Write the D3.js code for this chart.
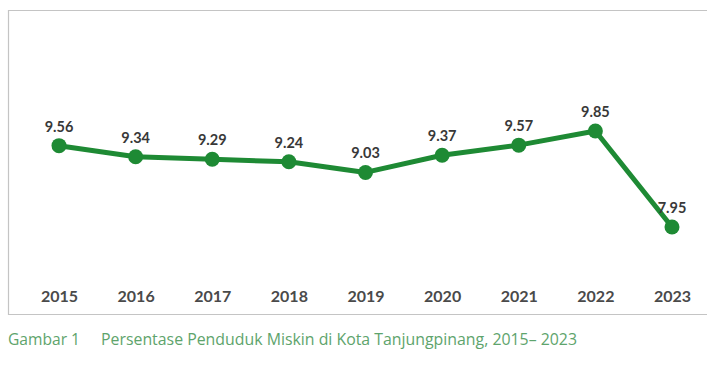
<!DOCTYPE html>
<html><head><meta charset="utf-8">
<script src="https://cdn.jsdelivr.net/npm/d3@7"></script>
<style>body{margin:0;background:#fff}svg{display:block}</style>
</head><body>
<svg id="c" width="707" height="382"></svg>
<script>
const years = ["2015","2016","2017","2018","2019","2020","2021","2022","2023"];
const values = [9.56, 9.34, 9.29, 9.24, 9.03, 9.37, 9.57, 9.85, 7.95];
const caption = ["Gambar 1", "Persentase Penduduk Miskin di Kota Tanjungpinang, 2015– 2023"];

const svg = d3.select("#c");
const green = "#1e8a34";

// frame
svg.append("path")
  .attr("d", "M707,10.5 H8.5 V314.5 H707")
  .attr("fill", "none").attr("stroke", "#c4c4c4").attr("stroke-width", 1.2);

const x = d3.scalePoint().domain(years).range([59, 672]);
const y = d3.scaleLinear().domain([7.95, 9.85]).range([227, 131]);

const pts = years.map((yr, i) => ({yr, v: values[i]}));

svg.append("path").datum(pts)
  .attr("d", d3.line().x(d => x(d.yr)).y(d => y(d.v)))
  .attr("fill", "none").attr("stroke", green).attr("stroke-width", 5)
  .attr("stroke-linejoin", "round");

svg.selectAll("circle.p").data(pts).join("circle")
  .attr("cx", d => x(d.yr)).attr("cy", d => y(d.v)).attr("r", 7.5)
  .attr("fill", green);

svg.selectAll("text.v").data(pts).join("text")
  .attr("x", d => x(d.yr)).attr("y", d => y(d.v) - 14)
  .attr("text-anchor", "middle")
  .attr("font-family", "Lato, 'Open Sans', sans-serif")
  .attr("font-weight", "bold").attr("font-size", 14.5)
  .attr("fill", "#383838")
  .text(d => d.v.toFixed(2));

const xAxis = d3.axisBottom(x).tickSize(0).tickPadding(0);
const ax = svg.append("g").attr("transform", "translate(0,291)").call(xAxis);
ax.select(".domain").remove();
ax.selectAll("text")
  .attr("font-family", "Lato, 'Open Sans', sans-serif")
  .attr("font-weight", "bold").attr("font-size", 16)
  .attr("fill", "#4a4a4a");

svg.append("text").attr("x", 8).attr("y", 345)
  .attr("font-family", "'Open Sans', 'Noto Sans', sans-serif")
  .attr("font-size", 16).attr("fill", "#5ea46c")
  .attr("textLength", 72).attr("lengthAdjust", "spacingAndGlyphs")
  .text(caption[0]);
svg.append("text").attr("x", 101).attr("y", 345)
  .attr("font-family", "'Open Sans', 'Noto Sans', sans-serif")
  .attr("font-size", 16).attr("fill", "#5ea46c")
  .attr("textLength", 476).attr("lengthAdjust", "spacingAndGlyphs")
  .text(caption[1]);
</script>
</body></html>
